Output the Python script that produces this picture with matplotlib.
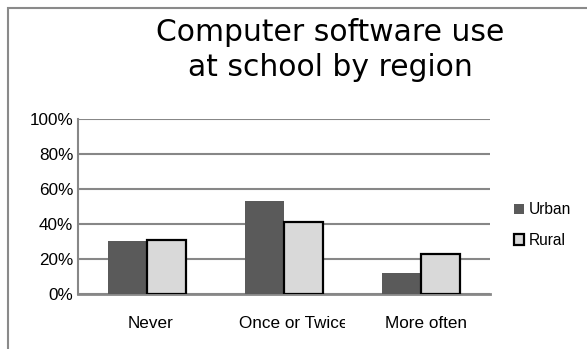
import numpy as np
import matplotlib.pyplot as plt
from matplotlib.patches import Rectangle
from matplotlib.transforms import Bbox, TransformedBbox, ScaledTranslation

categories = ['Never', 'Once or Twice', 'More often']
urban = [30.5, 53, 12]
rural = [31, 41, 23]
yticks = [0, 20, 40, 60, 80, 100]

W, H = 587, 349
fig = plt.figure(figsize=(W / 100, H / 100), dpi=100)
fig.patch.set_facecolor('white')

# outer chart frame (only top and left edges fall inside the canvas)
fig.patches.append(Rectangle((8 / W, -0.1), 1.2, 1 - 8 / H + 0.1, transform=fig.transFigure,
                             fill=False, edgecolor='#8a8a8a', lw=1.5))

ax = fig.add_axes([78 / W, 1 - 294 / H, 412 / W, 175 / H])
x = np.arange(len(categories))
bw = 0.285
ax.bar(x - bw / 2, urban, bw, color='#5a5a5a', lw=0, label='Urban', zorder=3)
ax.bar(x + bw / 2, rural, bw, color='#d9d9d9', edgecolor='black', lw=1.6, label='Rural', zorder=3)

ax.set_xlim(-0.5, 2.5)
ax.set_ylim(0, 100)
ax.set_yticks(yticks)
ax.set_yticklabels([f'{v}%' for v in yticks], family='Liberation Sans', fontsize=12.3)
ax.set_xticks(x)
ax.set_xticklabels([])
ax.tick_params(axis='y', length=0, pad=3.5)
ax.tick_params(axis='x', length=0)

# category labels, the long one runs past its slot and gets cut
nudge = [0.04, 0.095, 0.05]
for i, name in enumerate(categories):
    shift = ScaledTranslation(nudge[i], -0.22, fig.dpi_scale_trans)
    t = ax.text(i, 0, name, transform=ax.get_xaxis_transform() + shift, ha='center', va='top',
                family='Liberation Sans', fontsize=12.3)
    if i == 1:
        t.set_clip_box(TransformedBbox(Bbox([[0, 0], [345 / W, 1]]), fig.transFigure))
        t.set_clip_on(True)

ax.grid(axis='y', color='#878787', lw=1.5, zorder=1)
ax.set_axisbelow(True)
for s in ('top', 'right'):
    ax.spines[s].set_visible(False)
ax.spines['left'].set_color('#878787')
ax.spines['left'].set_linewidth(1.5)
ax.spines['bottom'].set_color('#878787')
ax.spines['bottom'].set_linewidth(2)

fig.text(330 / W, 1 - 18 / H, 'Computer software use\nat school by region', ha='center', va='top',
         family='DejaVu Sans', fontsize=21.4, linespacing=1.26)

fig.legend(loc='center left', bbox_to_anchor=(514 / W, 1 - 225 / H), frameon=False,
           prop={'family': 'Liberation Sans', 'size': 11.2}, handlelength=0.65, handleheight=0.65,
           handletextpad=0.3, labelspacing=1.0, borderpad=0, borderaxespad=0)

fig.savefig('out.png', dpi=100)
